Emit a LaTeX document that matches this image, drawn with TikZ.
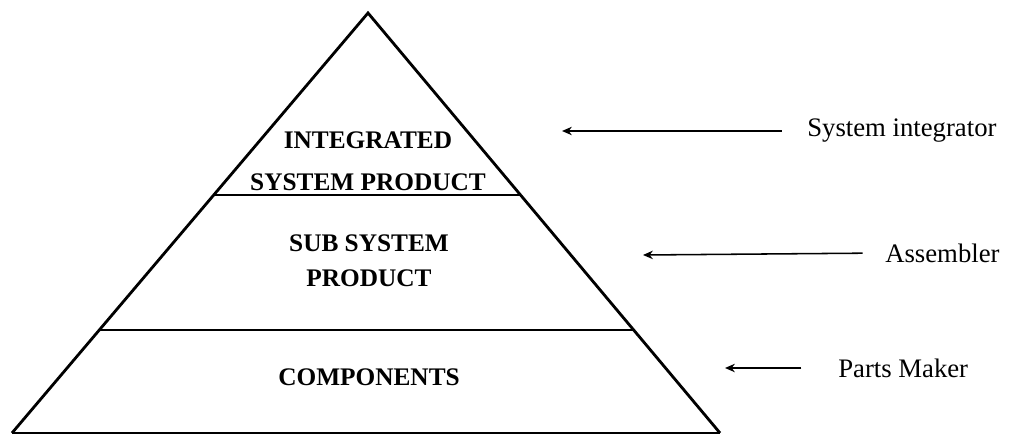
\documentclass[tikz,border=0pt]{standalone}
\usepackage{fontspec}
\setmainfont{Liberation Serif}
\usetikzlibrary{calc,arrows.meta}
\begin{document}
\begin{tikzpicture}[x=0.025cm,y=-0.025cm,
  side/.style={line width=2pt,line join=miter},
  tier/.style={line width=1.4pt},
  tierlabel/.style={font=\bfseries\fontsize{18}{#1}\selectfont,align=center,inner sep=0pt},
  rolelabel/.style={font=\fontsize{19}{22}\selectfont,anchor=west,inner sep=0pt},
  pointer/.style={line width=1.1pt,-{Stealth[length=7pt,width=6pt]},shorten <=#1}]
  \useasboundingbox (0,0) rectangle (1011,439);
  % pyramid outline
  \coordinate (apex) at (368,13);
  \coordinate (bl) at (12,433);
  \coordinate (br) at (720,433);
  \draw[side] (bl) -- (apex) -- (br);
  \draw[line width=1.6pt] (bl) -- (br);
  % tier dividers
  \coordinate (ul) at ($(apex)!0.433!(bl)$);
  \coordinate (ur) at ($(apex)!0.433!(br)$);
  \coordinate (ll) at ($(apex)!0.755!(bl)$);
  \coordinate (lr) at ($(apex)!0.755!(br)$);
  \draw[tier] (ul) -- (ur);
  \draw[tier] (ll) -- (lr);
  % tier labels
  \node[tierlabel=30] (top) at (368,161) {INTEGRATED\\SYSTEM PRODUCT};
  \node[tierlabel=25] (mid) at (369,261) {SUB SYSTEM\\PRODUCT};
  \node[tierlabel=22] (bot) at (369,377) {COMPONENTS};
  % roles
  \node[rolelabel] (integ) at (807,131) {System integrator};
  \node[rolelabel] (assem) at (885,253) {Assembler};
  \node[rolelabel] (parts) at (838,368) {Parts Maker};
  \coordinate (integtip) at (562,131);
  \coordinate (assemtip) at (643,255);
  \coordinate (partstip) at (725,368);
  \draw[pointer=18pt] (integ.west) -- (integtip);
  \draw[pointer=16pt] (assem.west) -- (assemtip);
  \draw[pointer=26pt] (parts.west) -- (partstip);
\end{tikzpicture}
\end{document}
